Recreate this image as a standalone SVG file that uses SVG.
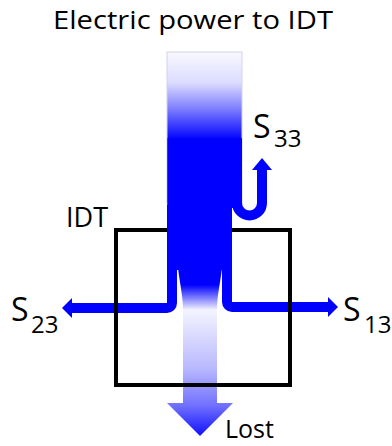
<svg xmlns="http://www.w3.org/2000/svg" width="392" height="446" viewBox="0 0 392 446">
  <defs>
    <linearGradient id="gIn" gradientUnits="userSpaceOnUse" x1="0" y1="52" x2="0" y2="140">
      <stop offset="0" stop-color="#f8f8ff"/>
      <stop offset="0.35" stop-color="#dcdcff"/>
      <stop offset="0.65" stop-color="#7c7cff"/>
      <stop offset="1" stop-color="#0000ff"/>
    </linearGradient>
    <linearGradient id="gLost" gradientUnits="userSpaceOnUse" x1="0" y1="268" x2="0" y2="436">
      <stop offset="0" stop-color="#0000ff"/>
      <stop offset="0.1" stop-color="#0000ff"/>
      <stop offset="0.25" stop-color="#f4f4ff"/>
      <stop offset="0.6" stop-color="#b8b8ff"/>
      <stop offset="0.82" stop-color="#7070ff"/>
      <stop offset="1" stop-color="#1010ff"/>
    </linearGradient>
    <style>
      .flow { fill: none; stroke: #0000ff; stroke-width: 10; }
      .head { fill: #0000ff; }
      .lbl { font-family: "Open Sans", "Liberation Sans", sans-serif; fill: #000; }
    </style>
  </defs>
  <rect width="392" height="446" fill="#fff"/>

  <g id="connectors">
    <path id="lost" d="M178,268 C180,285 183,296 183,310 L183,403 L167,403 L200,436 L233,403 L217,403 L217,310 C217,296 220,285 222,268 Z" fill="url(#gLost)"/>
    <g id="to-S23">
      <path class="flow" d="M172,262 V303 A5,5 0 0 1 167,308 H70"/>
      <polygon class="head" points="72,298 72,318 62,308"/>
    </g>
    <g id="to-S13">
      <path class="flow" d="M227,262 V302 A5,5 0 0 0 232,307 H330"/>
      <polygon class="head" points="328,297 328,317 338,307"/>
    </g>
  </g>

  <g id="idt">
    <rect x="116" y="230" width="174" height="155" fill="none" stroke="#000" stroke-width="4"/>
    <text class="lbl" x="66" y="227" font-size="27">IDT</text>
  </g>

  <g id="power-input">
    <rect x="167" y="200" width="65" height="70" fill="#0000ff"/>
    <rect x="167" y="52" width="75" height="152" fill="url(#gIn)" stroke="#d4d4e4" stroke-width="1"/>
    <rect x="167.5" y="138" width="74.5" height="70" fill="#0000ff"/>
    <text class="lbl" x="53" y="29" font-size="25" textLength="280" lengthAdjust="spacingAndGlyphs">Electric power to IDT</text>
  </g>

  <g id="to-S33">
    <path class="flow" d="M237,195 V203 A12.5,12.5 0 0 0 262,203 V168"/>
    <polygon class="head" points="252,170 272,170 262,158"/>
  </g>

  <g id="S33">
    <text class="lbl" x="253" y="138" font-size="32">S</text>
    <text class="lbl" x="274" y="147" font-size="24">33</text>
  </g>
  <g id="S23">
    <text class="lbl" x="11" y="321" font-size="32">S</text>
    <text class="lbl" x="31" y="333" font-size="24">23</text>
  </g>
  <g id="S13">
    <text class="lbl" x="343" y="321" font-size="32">S</text>
    <text class="lbl" x="364" y="333" font-size="24">13</text>
  </g>
  <g id="lost-label">
    <text class="lbl" x="225" y="438" font-size="25">Lost</text>
  </g>
</svg>
